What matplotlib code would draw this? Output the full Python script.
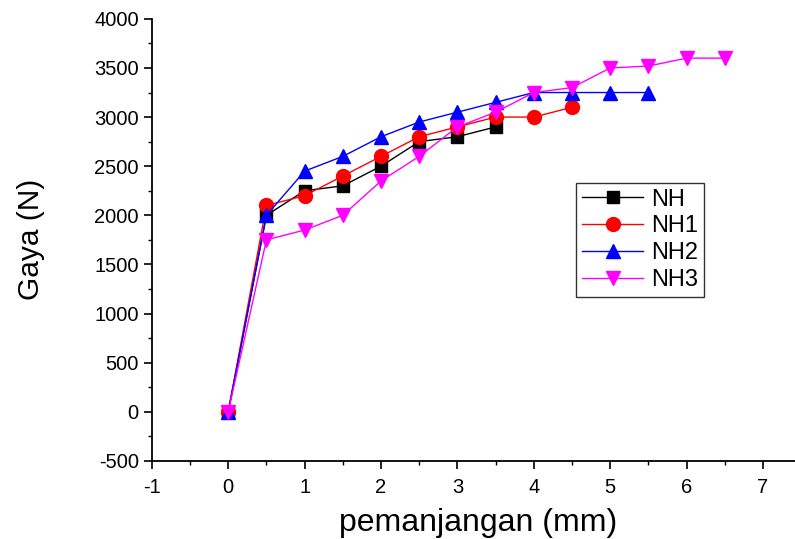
import matplotlib
matplotlib.use("Agg")
import matplotlib.pyplot as plt
from matplotlib.ticker import MultipleLocator

plt.rcParams['font.family'] = ['Liberation Sans', 'DejaVu Sans']
plt.rcParams['axes.unicode_minus'] = False

x_nh = [0, 0.5, 1, 1.5, 2, 2.5, 3, 3.5]
y_nh = [0, 2000, 2250, 2300, 2500, 2750, 2800, 2900]
x_nh1 = [0, 0.5, 1, 1.5, 2, 2.5, 3, 3.5, 4, 4.5]
y_nh1 = [0, 2100, 2200, 2400, 2600, 2800, 2900, 3000, 3000, 3100]
x_nh2 = [0, 0.5, 1, 1.5, 2, 2.5, 3, 3.5, 4, 4.5, 5, 5.5]
y_nh2 = [0, 2000, 2450, 2600, 2800, 2950, 3050, 3150, 3250, 3250, 3250, 3250]
x_nh3 = [0, 0.5, 1, 1.5, 2, 2.5, 3, 3.5, 4, 4.5, 5, 5.5, 6, 6.5]
y_nh3 = [0, 1750, 1850, 2000, 2350, 2600, 2900, 3050, 3250, 3300, 3500, 3520, 3600, 3600]

fig = plt.figure(figsize=(7.95, 5.39), dpi=100)
ax = fig.add_axes([0.191, 0.145, 0.812, 0.82])

ms = 9
ax.plot(x_nh, y_nh, color='black', marker='s', ms=ms, lw=1, label='NH')
ax.plot(x_nh1, y_nh1, color='red', marker='o', ms=ms + 1, lw=1, label='NH1')
ax.plot(x_nh2, y_nh2, color='blue', marker='^', ms=ms + 1, lw=1, label='NH2')
ax.plot(x_nh3, y_nh3, color='magenta', marker='v', ms=ms + 1, lw=1, label='NH3')

ax.set_xlim(-1, 7.45)
ax.set_ylim(-500, 4000)
ax.xaxis.set_major_locator(MultipleLocator(1))
ax.xaxis.set_minor_locator(MultipleLocator(0.5))
ax.yaxis.set_major_locator(MultipleLocator(500))
ax.yaxis.set_minor_locator(MultipleLocator(250))

for s in ['top', 'right']:
    ax.spines[s].set_visible(False)
for s in ['left', 'bottom']:
    ax.spines[s].set_linewidth(1.3)

ax.tick_params(which='major', direction='out', length=6, width=1.2, labelsize=14.5)
ax.tick_params(axis='x', which='major', pad=6)
ax.tick_params(which='minor', direction='out', length=3, width=1.0)

ax.set_xlabel('pemanjangan (mm)', fontsize=23)
ax.set_ylabel('Gaya (N)', fontsize=21.5)
ax.xaxis.set_label_coords(0.505, -0.106)
ax.yaxis.set_label_coords(-0.166, 0.50)

leg = ax.legend(loc='upper left', bbox_to_anchor=(0.657, 0.629), fontsize=17,
                frameon=True, fancybox=False, edgecolor='black',
                handlelength=2.6, handletextpad=0.35, borderpad=0.25,
                labelspacing=0.2, borderaxespad=0)
leg.get_frame().set_linewidth(1.0)

fig.savefig('out.png', dpi=100)
